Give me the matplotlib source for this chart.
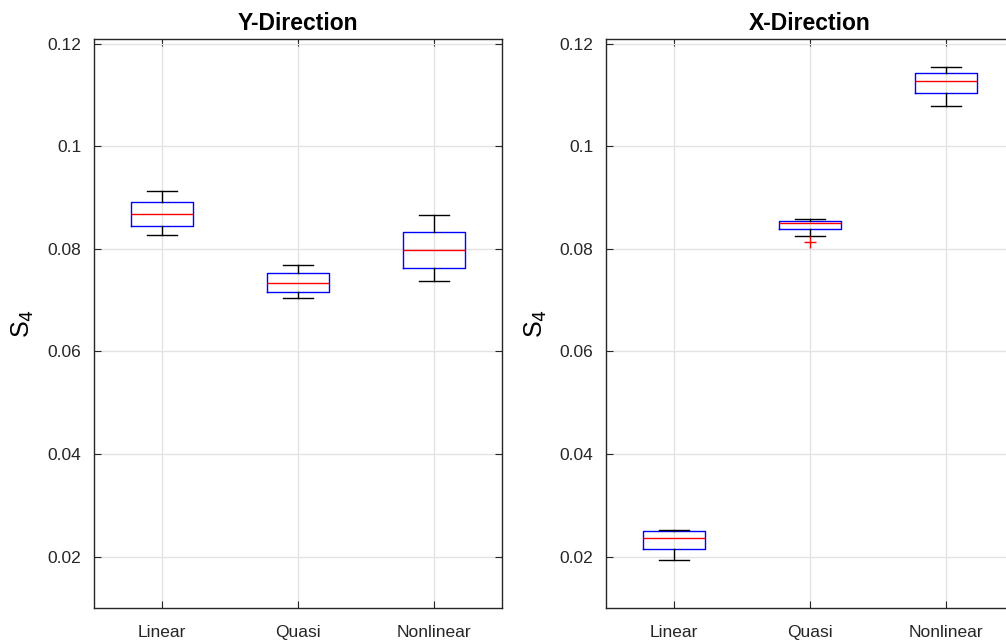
import matplotlib
matplotlib.use("Agg")
import matplotlib.pyplot as plt

plt.rcParams['font.family'] = ['Liberation Sans', 'DejaVu Sans']

categories = ['Linear', 'Quasi', 'Nonlinear']
yticks = [0.02, 0.04, 0.06, 0.08, 0.1, 0.12]
ytick_labels = ['0.02', '0.04', '0.06', '0.08', '0.1', '0.12']

# Y-Direction: whisker low, q1, median, q3, whisker high
y_whislo = [0.0827, 0.0704, 0.0738]
y_q1 = [0.0844, 0.0716, 0.0762]
y_med = [0.0867, 0.0733, 0.0797]
y_q3 = [0.0891, 0.0752, 0.0833]
y_whishi = [0.0912, 0.0769, 0.0865]
y_fliers = [[], [], []]

# X-Direction
x_whislo = [0.0193, 0.0825, 0.1079]
x_q1 = [0.0215, 0.0838, 0.1104]
x_med = [0.0237, 0.0851, 0.1127]
x_q3 = [0.0250, 0.0855, 0.1142]
x_whishi = [0.0252, 0.0858, 0.1155]
x_fliers = [[], [0.0813], []]

fig = plt.figure(figsize=(10.06, 6.42), dpi=100)
ax1 = fig.add_axes([0.0934, 0.053, 0.4056, 0.8855])
ax2 = fig.add_axes([0.6024, 0.053, 0.4056, 0.8855])


def draw(ax, title, lo, q1, med, q3, hi, fl):
    stats = []
    for i in range(len(categories)):
        stats.append(dict(whislo=lo[i], q1=q1[i], med=med[i], q3=q3[i],
                          whishi=hi[i], fliers=fl[i], label=categories[i]))
    ax.bxp(stats, positions=[1, 2, 3], widths=0.45, showfliers=True,
           boxprops=dict(color='blue', linewidth=1),
           medianprops=dict(color='red', linewidth=1),
           whiskerprops=dict(color='black', linewidth=1, linestyle='-'),
           capprops=dict(color='black', linewidth=1),
           capwidths=0.22,
           flierprops=dict(marker='+', markeredgecolor='red', markersize=8,
                           linestyle='none'))
    ax.set_xlim(0.5, 3.5)
    ax.set_ylim(0.01, 0.1208)
    ax.set_yticks(yticks)
    ax.set_yticklabels(ytick_labels)
    ax.set_xticks([1, 2, 3])
    ax.set_xticklabels(categories)
    ax.grid(True, color='#e3e3e3', linewidth=1)
    ax.set_axisbelow(True)
    for s in ax.spines.values():
        s.set_color('#262626')
        s.set_linewidth(1)
    ax.tick_params(direction='in', top=True, right=True, length=5,
                   colors='#262626', labelsize=12.5)
    ax.tick_params(axis='y', pad=9)
    ax.tick_params(axis='x', pad=12)
    ax.set_title(title, fontsize=16.5, fontweight='bold', pad=7)
    ax.set_ylabel('S$_4$', fontsize=18, labelpad=8)


draw(ax1, 'Y-Direction', y_whislo, y_q1, y_med, y_q3, y_whishi, y_fliers)
draw(ax2, 'X-Direction', x_whislo, x_q1, x_med, x_q3, x_whishi, x_fliers)

fig.savefig('out.png', dpi=100)
